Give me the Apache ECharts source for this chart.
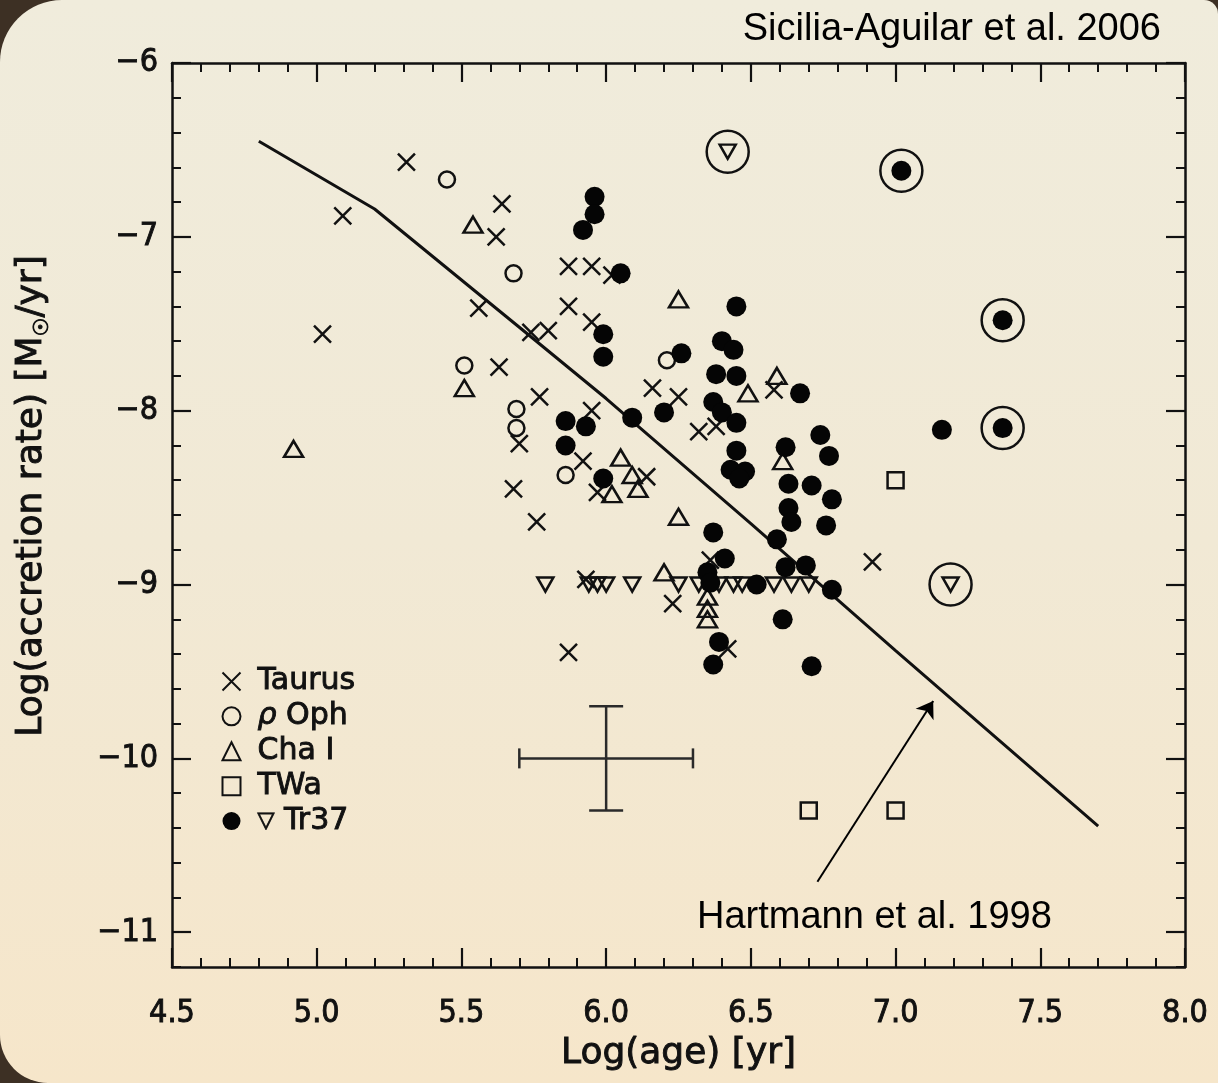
<!DOCTYPE html>
<html><head><meta charset="utf-8">
<script src="https://cdn.jsdelivr.net/npm/echarts@6/dist/echarts.min.js"></script>
<style>html,body{margin:0;padding:0;background:#3d3024}#c{width:1218px;height:1083px}</style>
</head><body><div id="c"></div>
<script>
// ---------- data (log age [yr], log accretion rate [Msun/yr]) ----------
const taurus = [[5.31,-6.57],[5.09,-6.88],[5.02,-7.56],[5.64,-6.81],[5.62,-7.00],[5.87,-7.17],[5.95,-7.17],[6.02,-7.22],[5.87,-7.40],[5.95,-7.49],[5.56,-7.41],[5.74,-7.55],[5.80,-7.54],[5.63,-7.75],[5.77,-7.92],[5.70,-8.19],[5.68,-8.45],[5.76,-8.64],[5.95,-8.00],[5.92,-8.29],[5.97,-8.47],[6.14,-8.38],[6.16,-7.87],[6.25,-7.92],[6.32,-8.12],[6.38,-8.09],[5.93,-8.97],[6.23,-9.11],[5.87,-9.39],[6.36,-8.86],[6.42,-9.37],[6.92,-8.87],[6.58,-7.88]];
const rhoOph = [[5.45,-6.67],[5.68,-7.21],[5.51,-7.74],[5.69,-7.99],[5.69,-8.10],[5.86,-8.37],[6.21,-7.71]];
const chaI = [[4.92,-8.22],[5.54,-6.93],[5.51,-7.87],[6.25,-7.36],[6.02,-8.48],[6.05,-8.27],[6.09,-8.37],[6.11,-8.45],[6.25,-8.61],[6.49,-7.90],[6.59,-7.80],[6.61,-8.29],[6.20,-8.93],[6.35,-9.07],[6.35,-9.14],[6.35,-9.20]];
const twa = [[7.00,-8.40],[6.70,-10.30],[7.00,-10.30]];
const tr37 = [[5.96,-6.77],[5.96,-6.87],[5.92,-6.96],[6.05,-7.21],[5.99,-7.56],[5.99,-7.69],[6.45,-7.40],[6.40,-7.60],[6.44,-7.65],[6.26,-7.67],[5.86,-8.06],[5.93,-8.09],[5.86,-8.20],[5.99,-8.39],[6.09,-8.04],[6.20,-8.01],[6.38,-7.79],[6.45,-7.80],[6.37,-7.95],[6.40,-8.01],[6.45,-8.07],[6.45,-8.23],[6.43,-8.34],[6.48,-8.35],[6.46,-8.39],[6.37,-8.70],[6.41,-8.85],[6.35,-8.93],[6.36,-8.99],[6.52,-9.00],[6.39,-9.33],[6.37,-9.46],[6.67,-7.90],[7.16,-8.11],[6.74,-8.14],[6.62,-8.21],[6.77,-8.26],[6.63,-8.42],[6.71,-8.43],[6.78,-8.51],[6.63,-8.56],[6.64,-8.64],[6.76,-8.66],[6.59,-8.74],[6.62,-8.90],[6.69,-8.89],[6.78,-9.03],[6.61,-9.20],[6.71,-9.47],[7.02,-6.62],[7.37,-7.48],[7.37,-8.10]];
const tr37Limits = [[5.79,-9.0],[5.94,-9.0],[5.97,-9.0],[6.00,-9.0],[6.09,-9.0],[6.25,-9.0],[6.32,-9.0],[6.39,-9.0],[6.44,-9.0],[6.47,-9.0],[6.58,-9.0],[6.64,-9.0],[6.70,-9.0],[6.42,-6.51],[7.19,-9.0]];
const circled = [[6.42,-6.51],[7.02,-6.62],[7.37,-7.48],[7.37,-8.10],[7.19,-9.0]];
const hartmannX = [4.8, 5.2, 5.7, 6.0, 6.5, 7.0, 7.7];
const hartmannY = [-6.45, -6.84, -7.52, -7.93, -8.65, -9.38, -10.39];
const errorBar = [[6.0, -10.0, 0.3, 0.3]];           // x, y, dx, dy
const arrowFrom = [6.73, -10.71], arrowTo = [7.13, -9.67];
const xMajor = [4.5, 5.0, 5.5, 6.0, 6.5, 7.0, 7.5, 8.0];
const yMajor = [-11, -10, -9, -8, -7, -6];
const legendNames = ['Taurus', 'ρ Oph', 'Cha I', 'TWa', 'Tr37'];

// ---------- styles ----------
const INK = '#111111';
const TICK_FONT = '"DejaVu Sans Condensed", "DejaVu Sans", sans-serif';
const NAME_FONT = '"DejaVu Sans", sans-serif';
const thick = {textBorderColor: INK, textBorderWidth: 0.9};
const crossPath = 'path://M0,0L10,10M10,0L0,10';
const openStyle = {color: 'none', borderColor: INK, borderWidth: 2.5, opacity: 1};

function xAxisDef(pos, labels) {
  return {
    type: 'value', position: pos, min: xMajor[0], max: xMajor[xMajor.length-1], interval: 0.5,
    axisLine: {show: true, onZero: false, lineStyle: {color: INK, width: 2.5}},
    axisTick: {show: true, inside: true, length: 19, lineStyle: {color: INK, width: 2.2}},
    minorTick: {show: true, splitNumber: 5, length: 9, lineStyle: {color: INK, width: 2}},
    splitLine: {show: false}, minorSplitLine: {show: false},
    axisLabel: Object.assign({show: labels, margin: 31, color: INK, fontFamily: TICK_FONT, fontSize: 32,
      formatter: v => v.toFixed(1)}, thick),
    name: labels ? 'Log(age) [yr]' : '', nameLocation: 'middle', nameGap: 69,
    nameTextStyle: Object.assign({color: INK, fontFamily: NAME_FONT, fontSize: 36}, thick)
  };
}
function yAxisDef(pos, major, labels) {
  const a = {
    type: 'value', position: pos, min: -11.2, max: -6, interval: 0.2,
    axisLine: {show: !major, onZero: false, lineStyle: {color: INK, width: 2.5}},
    axisTick: {show: true, inside: true, length: major ? 19 : 9, lineStyle: {color: INK, width: major ? 2.2 : 2}},
    splitLine: {show: false},
    axisLabel: {show: false}
  };
  if (major) a.axisTick.customValues = yMajor;
  if (labels) {
    a.axisLabel = Object.assign({show: true, customValues: yMajor, margin: 14, color: INK, fontFamily: TICK_FONT, fontSize: 32,
      formatter: v => (v < 0 ? '\u2212' : '') + Math.abs(Math.round(v))}, thick);
    a.name = 'Log(accretion rate) [M{s|☉}/yr]';
    a.nameLocation = 'middle'; a.nameGap = 119; a.nameRotate = 90;
    a.nameTextStyle = Object.assign({color: INK, fontFamily: NAME_FONT, fontSize: 36, padding: [0, 0, 0, 38],
      rich: {s: Object.assign({fontFamily: NAME_FONT, fontSize: 21, color: INK, verticalAlign: 'bottom', padding: [22, 0, 0, 0]}, thick)}}, thick);
  }
  return a;
}

const chart = echarts.init(document.getElementById('c'), null, {renderer: 'canvas'});
chart.setOption({
  animation: false,
  backgroundColor: '#3d3024',
  graphic: [{
    type: 'rect', z: -100, silent: true,
    shape: {x: 0, y: 0, width: 1218, height: 1083, r: [62, 14, 0, 48]},
    style: {fill: new echarts.graphic.LinearGradient(0, 0, 0, 1, [
      {offset: 0, color: '#f0ecdc'}, {offset: 0.5, color: '#f1e9d5'}, {offset: 1, color: '#f6e6ca'}])}
  }, {
    type: 'text', left: 697, top: 899, silent: true,
    style: {text: 'Hartmann et al. 1998', fill: '#000', font: '38px "Liberation Sans", Arial, sans-serif'}
  }],
  title: {text: 'Sicilia-Aguilar et al. 2006', right: 52, top: 6,
    textStyle: {color: '#000', fontFamily: 'Liberation Sans', fontWeight: 'normal', fontSize: 38}},
  grid: {left: 172, right: 33, top: 63, bottom: 116, containLabel: false},
  xAxis: [xAxisDef('bottom', true), xAxisDef('top', false)],
  yAxis: [yAxisDef('left', false, true), yAxisDef('left', true, false), yAxisDef('right', false, false), yAxisDef('right', true, false)],
  legend: {
    data: legendNames, orient: 'vertical', left: 215, top: 661, itemWidth: 18, itemHeight: 18, itemGap: 4,
    selectedMode: false,
    textStyle: Object.assign({color: INK, fontFamily: NAME_FONT, fontSize: 30, lineHeight: 26, padding: [0, 0, 0, 12],
      rich: {i: Object.assign({fontStyle: 'italic', fontFamily: NAME_FONT, fontSize: 30, lineHeight: 26, color: INK}, thick),
             t: {fontFamily: NAME_FONT, fontSize: 22, lineHeight: 26, color: INK}}}, thick),
    formatter: n => n === 'ρ Oph' ? '{i|ρ} Oph' : (n === 'Tr37' ? '{t|▽} Tr37' : n)
  },
  series: [
    {name: 'Hartmann 1998', type: 'line', data: hartmannX.map((x, i) => [x, hartmannY[i]]),
      showSymbol: false, symbol: 'none', lineStyle: {color: INK, width: 3}, z: 3, silent: true,
      markLine: {silent: true, symbol: ['none', 'arrow'], symbolSize: 16, animation: false,
        label: {show: false}, lineStyle: {color: '#000', width: 2, type: 'solid', opacity: 1},
        itemStyle: {color: '#000'},
        data: [[{coord: arrowFrom}, {coord: arrowTo}]]}},
    {name: 'error', type: 'custom', data: errorBar, encode: {x: 0, y: 1}, silent: true, z: 3,
      renderItem: (params, api) => {
        const x = api.value(0), y = api.value(1), dx = api.value(2), dy = api.value(3);
        const l = api.coord([x - dx, y]), r = api.coord([x + dx, y]);
        const t = api.coord([x, y + dy]), b = api.coord([x, y - dy]);
        const st = {stroke: '#2a2a2a', lineWidth: 2.5};
        const ln = (x1, y1, x2, y2) => ({type: 'line', shape: {x1, y1, x2, y2}, style: st});
        return {type: 'group', children: [
          ln(l[0], l[1], r[0], r[1]), ln(t[0], t[1], b[0], b[1]),
          ln(l[0], l[1] - 10, l[0], l[1] + 10), ln(r[0], r[1] - 10, r[0], r[1] + 10),
          ln(t[0] - 17, t[1], t[0] + 17, t[1]), ln(b[0] - 17, b[1], b[0] + 17, b[1])]};
      }},
    {name: 'Taurus', type: 'scatter', data: taurus, symbol: crossPath, symbolSize: 17, itemStyle: openStyle, z: 4},
    {name: 'ρ Oph', type: 'scatter', data: rhoOph, symbol: 'circle', symbolSize: 16, itemStyle: openStyle, z: 4},
    {name: 'Cha I', type: 'scatter', data: chaI, symbol: 'triangle', symbolSize: [19, 16], itemStyle: openStyle, z: 4},
    {name: 'TWa', type: 'scatter', data: twa, symbol: 'rect', symbolSize: 16, itemStyle: openStyle, z: 4},
    {name: 'Tr37', type: 'scatter', data: tr37, symbol: 'circle', symbolSize: 20, itemStyle: {color: '#050505', opacity: 1}, z: 5},
    {name: 'Tr37 upper limits', type: 'scatter', data: tr37Limits, symbol: 'triangle', symbolRotate: 180,
      symbolSize: [16, 14], itemStyle: openStyle, z: 4},
    {name: 'circled', type: 'scatter', data: circled, symbol: 'circle', symbolSize: 42,
      itemStyle: {color: 'none', borderColor: INK, borderWidth: 2.5, opacity: 1}, z: 4}
  ]
});
</script></body></html>
